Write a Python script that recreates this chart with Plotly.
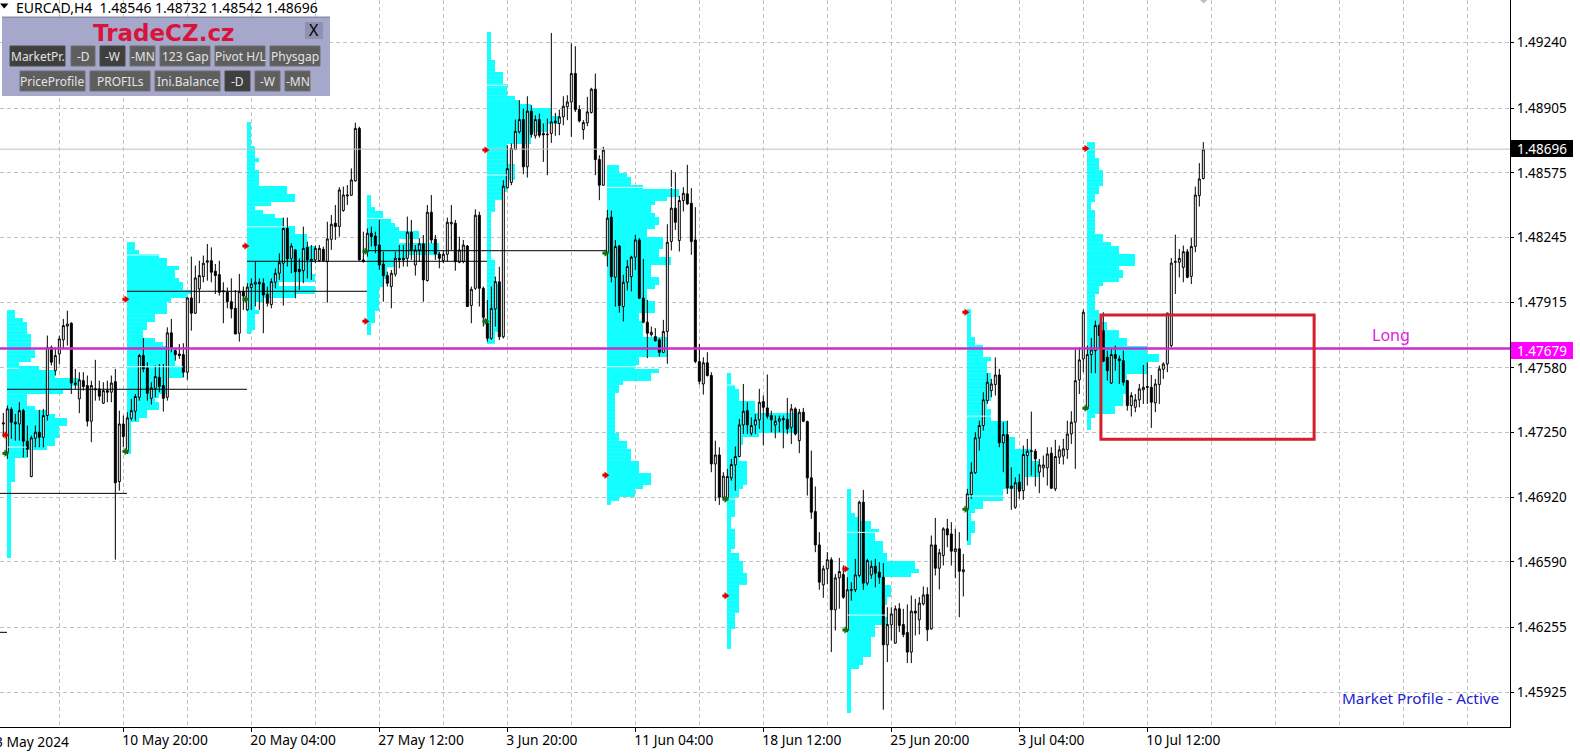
import plotly.graph_objects as go

open_ = [
1.47294,1.47150,1.47369,1.47303,1.47294,1.47362,1.47206,1.47026,1.47221,1.47252,
1.47226,1.47337,1.47685,1.47566,1.47651,1.47723,1.47793,1.47808,1.47503,1.47422,
1.47515,1.47490,1.47308,1.47468,1.47473,1.47400,1.47464,1.47456,1.47510,1.47000,
1.47294,1.47158,1.47323,1.47359,1.47430,1.47643,1.47580,1.47425,1.47476,1.47532,
1.47490,1.47430,1.47759,1.47668,1.47651,1.47648,1.47558,1.47937,1.47859,1.47983,
1.48046,1.48119,1.48127,1.48073,1.48056,1.47974,1.47969,1.47918,1.47884,1.47757,
1.47969,1.47876,1.47990,1.48007,1.48017,1.48012,1.47956,1.47903,1.48017,1.48063,
1.48114,1.48292,1.48139,1.48182,1.48083,1.48076,1.48195,1.48134,1.48131,1.48128,
1.48185,1.48122,1.48236,1.48318,1.48301,1.48383,1.48457,1.48461,1.48534,1.48802,
1.48131,1.48173,1.48267,1.48253,1.48207,1.48110,1.48051,1.47995,1.48058,1.48139,
1.48139,1.48139,1.48272,1.48105,1.48182,1.48213,1.48026,1.48374,1.48236,1.48161,
1.48128,1.48160,1.48315,1.48318,1.48119,1.48122,1.48202,1.47898,1.47986,1.48359,
1.47986,1.47808,1.47731,1.47881,1.48019,1.47739,1.48499,1.48526,1.48694,1.48784,
1.48847,1.48606,1.48890,1.48764,1.48847,1.48776,1.48769,1.48776,1.48839,1.48827,
1.48861,1.48912,1.48937,1.49082,1.48898,1.48796,1.48830,1.48883,1.49002,1.48643,
1.48512,1.48170,1.48349,1.48043,1.48202,1.47893,1.48017,1.48046,1.48145,1.48233,
1.47936,1.47813,1.47750,1.47740,1.47723,1.47659,1.47766,1.48225,1.48395,1.48230,
1.48434,1.48468,1.48420,1.48233,1.47612,1.47498,1.47606,1.47541,1.47090,1.47136,
1.46920,1.46917,1.47019,1.47085,1.47128,1.47289,1.47362,1.47247,1.47289,1.47315,
1.47408,1.47376,1.47337,1.47289,1.47308,1.47322,1.47317,1.47277,1.47371,1.47209,
1.47354,1.47306,1.47019,1.46847,1.46677,1.46473,1.46555,1.46601,1.46346,1.46509,
1.46526,1.46240,1.46444,1.46448,1.46521,1.46895,1.46482,1.46524,1.46568,1.46538,
1.46512,1.46167,1.46269,1.46176,1.46351,1.46271,1.46230,1.46130,1.46339,1.46295,
1.46376,1.46424,1.46249,1.46677,1.46558,1.46623,1.46759,1.46733,1.46643,1.46657,
1.46540,1.46861,1.46934,1.47045,1.47223,1.47286,1.47413,1.47464,1.47495,1.47544,
1.47198,1.47240,1.46977,1.46869,1.46997,1.46954,1.47133,1.47153,1.47155,1.47048,
1.47070,1.47070,1.47145,1.46963,1.47124,1.47130,1.47163,1.47243,1.47303,1.47519,
1.47626,1.47379,1.47648,1.47668,1.47796,1.47770,1.47634,1.47503,1.47648,1.47626,
1.47617,1.47515,1.47388,1.47379,1.47417,1.47468,1.47485,1.47481,1.47401,1.47495,
1.47573,1.47600,1.47694,1.48119,1.48119,1.48093,1.48173,1.48047,1.48200,1.48459,
1.48546]

close = [
1.47299,1.47371,1.47303,1.47294,1.47362,1.47206,1.47165,1.47223,1.47252,1.47226,
1.47337,1.47685,1.47609,1.47643,1.47728,1.47796,1.47804,1.47503,1.47497,1.47519,
1.47485,1.47308,1.47490,1.47473,1.47436,1.47464,1.47456,1.47503,1.46994,1.47294,
1.47230,1.47325,1.47362,1.47434,1.47643,1.47575,1.47451,1.47478,1.47536,1.47486,
1.47425,1.47759,1.47685,1.47648,1.47643,1.47558,1.47937,1.47859,1.48039,1.48051,
1.48114,1.48127,1.48068,1.48051,1.47966,1.47969,1.47918,1.47881,1.47753,1.47969,
1.47947,1.47992,1.48009,1.48017,1.48009,1.47952,1.47910,1.48020,1.48063,1.48117,
1.48292,1.48136,1.48202,1.48071,1.48071,1.48190,1.48131,1.48126,1.48190,1.48190,
1.48128,1.48238,1.48313,1.48301,1.48488,1.48462,1.48462,1.48539,1.48802,1.48131,
1.48122,1.48267,1.48250,1.48204,1.48105,1.48051,1.48012,1.48063,1.48139,1.48131,
1.48131,1.48272,1.48182,1.48182,1.48213,1.48029,1.48374,1.48233,1.48161,1.48139,
1.48160,1.48323,1.48323,1.48122,1.48182,1.48207,1.47893,1.47981,1.48359,1.47986,
1.47838,1.47731,1.47884,1.48020,1.47739,1.48507,1.48597,1.48699,1.48787,1.48847,
1.48606,1.48890,1.48771,1.48847,1.48767,1.48769,1.48772,1.48835,1.48832,1.48861,
1.48915,1.48937,1.49082,1.48898,1.48840,1.48832,1.48886,1.49002,1.48643,1.48512,
1.48691,1.48344,1.48046,1.48199,1.47898,1.48017,1.48097,1.48145,1.48233,1.47936,
1.47813,1.47757,1.47762,1.47718,1.47659,1.47766,1.48221,1.48395,1.48323,1.48434,
1.48471,1.48417,1.48225,1.47613,1.47512,1.47606,1.47541,1.47090,1.47136,1.46920,
1.47028,1.47026,1.47087,1.47128,1.47289,1.47359,1.47289,1.47286,1.47315,1.47405,
1.47379,1.47333,1.47315,1.47308,1.47320,1.47315,1.47269,1.47371,1.47243,1.47354,
1.47308,1.47019,1.46844,1.46677,1.46487,1.46555,1.46601,1.46346,1.46509,1.46541,
1.46410,1.46448,1.46450,1.46524,1.46895,1.46482,1.46597,1.46568,1.46533,1.46512,
1.46167,1.46271,1.46325,1.46351,1.46266,1.46220,1.46130,1.46339,1.46329,1.46380,
1.46422,1.46244,1.46677,1.46558,1.46637,1.46759,1.46728,1.46645,1.46657,1.46543,
1.46550,1.46937,1.47048,1.47223,1.47286,1.47417,1.47507,1.47498,1.47544,1.47198,
1.47240,1.46968,1.46966,1.46994,1.46951,1.47138,1.47155,1.47157,1.47116,1.47085,
1.47085,1.47141,1.46966,1.47128,1.47162,1.47167,1.47243,1.47303,1.47515,1.47621,
1.47864,1.47648,1.47672,1.47796,1.47745,1.47614,1.47566,1.47648,1.47629,1.47617,
1.47507,1.47388,1.47439,1.47417,1.47473,1.47481,1.47481,1.47405,1.47498,1.47575,
1.47600,1.47860,1.48115,1.48122,1.48139,1.48173,1.48042,1.48200,1.48462,1.48544,
1.48696]

high = [
1.47350,1.47388,1.47379,1.47345,1.47405,1.47371,1.47286,1.47235,1.47286,1.47366,
1.47371,1.47745,1.47694,1.47685,1.47745,1.47830,1.47872,1.47813,1.47575,1.47558,
1.47558,1.47541,1.47515,1.47621,1.47515,1.47507,1.47515,1.47541,1.47575,1.47362,
1.47337,1.47354,1.47422,1.47447,1.47651,1.47733,1.47609,1.47507,1.47592,1.47600,
1.47600,1.47787,1.47830,1.47677,1.47702,1.47706,1.47940,1.48148,1.48102,1.48127,
1.48153,1.48212,1.48195,1.48110,1.48127,1.48017,1.47990,1.48037,1.47978,1.48060,
1.47995,1.48012,1.48037,1.48122,1.48037,1.48037,1.47995,1.48037,1.48088,1.48165,
1.48347,1.48347,1.48216,1.48185,1.48139,1.48301,1.48224,1.48207,1.48204,1.48207,
1.48199,1.48326,1.48360,1.48411,1.48502,1.48505,1.48513,1.48598,1.48831,1.48811,
1.48275,1.48292,1.48301,1.48275,1.48335,1.48173,1.48071,1.48080,1.48173,1.48207,
1.48207,1.48352,1.48335,1.48207,1.48241,1.48258,1.48411,1.48462,1.48258,1.48173,
1.48182,1.48347,1.48411,1.48335,1.48250,1.48233,1.48207,1.47995,1.48389,1.48377,
1.47995,1.47927,1.47995,1.48046,1.48096,1.48538,1.48716,1.48725,1.48847,1.48946,
1.48903,1.48966,1.48920,1.48869,1.48878,1.48827,1.48852,1.49289,1.48881,1.48898,
1.48966,1.48971,1.49235,1.49221,1.48920,1.48844,1.48963,1.49009,1.49082,1.48665,
1.48708,1.48386,1.48383,1.48233,1.48208,1.48055,1.48131,1.48152,1.48259,1.48242,
1.48136,1.47927,1.47791,1.47783,1.47732,1.47825,1.48313,1.48590,1.48577,1.48458,
1.48502,1.48616,1.48497,1.48400,1.47702,1.47634,1.47660,1.47558,1.47209,1.47175,
1.47048,1.47065,1.47116,1.47179,1.47320,1.47498,1.47405,1.47328,1.47345,1.47473,
1.47439,1.47546,1.47362,1.47337,1.47337,1.47337,1.47427,1.47396,1.47379,1.47371,
1.47376,1.47311,1.47158,1.46975,1.46742,1.46572,1.46640,1.46614,1.46529,1.46611,
1.46572,1.46512,1.46487,1.46606,1.46903,1.46958,1.46606,1.46597,1.46606,1.46589,
1.46584,1.46359,1.46359,1.46368,1.46380,1.46351,1.46373,1.46419,1.46402,1.46411,
1.46465,1.46461,1.46725,1.46815,1.46657,1.46767,1.46810,1.46793,1.46759,1.46742,
1.46631,1.46963,1.47099,1.47252,1.47311,1.47456,1.47553,1.47524,1.47634,1.47575,
1.47303,1.47311,1.47073,1.47022,1.47039,1.47184,1.47218,1.47357,1.47167,1.47116,
1.47133,1.47175,1.47175,1.47213,1.47184,1.47218,1.47311,1.47359,1.47677,1.47685,
1.47878,1.47694,1.47733,1.47821,1.47804,1.47864,1.47668,1.47685,1.47694,1.47643,
1.47668,1.47519,1.47456,1.47447,1.47498,1.47595,1.47609,1.47544,1.47524,1.47592,
1.47609,1.47860,1.48141,1.48260,1.48187,1.48204,1.48187,1.48243,1.48505,1.48625,
1.48732]

low = [
1.47226,1.47116,1.47218,1.47209,1.47209,1.47124,1.47124,1.47022,1.47175,1.47175,
1.47175,1.47311,1.47592,1.47541,1.47600,1.47677,1.47694,1.47447,1.47473,1.47349,
1.47464,1.47281,1.47201,1.47413,1.47413,1.47396,1.47405,1.47405,1.46602,1.46954,
1.47175,1.47141,1.47311,1.47311,1.47413,1.47558,1.47413,1.47393,1.47430,1.47456,
1.47357,1.47413,1.47660,1.47617,1.47626,1.47532,1.47519,1.47770,1.47855,1.47910,
1.48017,1.48025,1.48017,1.47957,1.47949,1.47808,1.47884,1.47833,1.47753,1.47714,
1.47876,1.47871,1.47876,1.47893,1.47876,1.47757,1.47893,1.47884,1.47986,1.48029,
1.47898,1.48097,1.48063,1.47935,1.47978,1.48012,1.48037,1.48029,1.48114,1.48122,
1.48122,1.47913,1.48182,1.48233,1.48250,1.48377,1.48411,1.48457,1.48530,1.48127,
1.48117,1.48148,1.48199,1.48165,1.48080,1.47918,1.47995,1.47884,1.48046,1.48088,
1.48097,1.48097,1.48131,1.48051,1.48122,1.47918,1.48020,1.48216,1.48131,1.48088,
1.48114,1.48122,1.48182,1.48076,1.48114,1.48114,1.47893,1.47808,1.47978,1.47893,
1.47791,1.47714,1.47723,1.47791,1.47722,1.47730,1.48495,1.48512,1.48691,1.48776,
1.48568,1.48551,1.48755,1.48750,1.48755,1.48631,1.48563,1.48728,1.48764,1.48767,
1.48818,1.48844,1.48759,1.48886,1.48832,1.48745,1.48813,1.48878,1.48563,1.48436,
1.48509,1.48097,1.48016,1.47893,1.47862,1.47817,1.47975,1.47970,1.48080,1.47931,
1.47808,1.47630,1.47740,1.47715,1.47638,1.47655,1.47601,1.48179,1.48284,1.48174,
1.48378,1.48412,1.48157,1.47604,1.47495,1.47444,1.47536,1.47048,1.46900,1.46881,
1.46912,1.46912,1.47005,1.46954,1.47124,1.47243,1.47243,1.47235,1.47243,1.47269,
1.47184,1.47320,1.47252,1.47221,1.47252,1.47170,1.47243,1.47192,1.47235,1.47145,
1.47303,1.46929,1.46810,1.46640,1.46448,1.46407,1.46478,1.46130,1.46240,1.46351,
1.46402,1.46232,1.46393,1.46436,1.46512,1.46448,1.46470,1.46504,1.46461,1.46478,
1.45836,1.46079,1.46189,1.46172,1.46232,1.46206,1.46074,1.46074,1.46215,1.46220,
1.46368,1.46186,1.46244,1.46521,1.46450,1.46572,1.46665,1.46572,1.46507,1.46308,
1.46414,1.46699,1.46912,1.47039,1.47158,1.47260,1.47396,1.47430,1.47439,1.47175,
1.47048,1.46937,1.46856,1.46861,1.46912,1.46907,1.46980,1.47031,1.46975,1.46941,
1.47022,1.46980,1.46963,1.46951,1.47090,1.47087,1.47116,1.47192,1.47065,1.47447,
1.47558,1.47366,1.47553,1.47553,1.47685,1.47609,1.47515,1.47498,1.47566,1.47498,
1.47490,1.47362,1.47332,1.47354,1.47379,1.47396,1.47396,1.47274,1.47354,1.47396,
1.47524,1.47558,1.47685,1.47957,1.48042,1.48017,1.48037,1.48008,1.48170,1.48403,
1.48542]

# Market-profile rows: TPO counts per price row, from the top of each week's range
profile_base = [0.92, 30.92, 60.92, 90.92, 120.92, 150.92, 180.92, 210.92, 240.92, 270.92]
profile_top = [1.47875, 1.48222, 1.48834, 1.48462, 1.49294, 1.48615, 1.47554, 1.46962, 1.47880, 1.48732]
profile_step = 0.000204
profile_1 = [2,2,4,5,5,5,6,6,6,6,7,7,6,3,8,12,12,18,18,16,14,5,5,5,7,10,12,15,15,13,13,13,12,12,10,5,5,
             2,2,2,2,2,2]+[1]*19
profile_2 = [2,2,3,8,10,10,13,12,12,13,14,14,16,15,11,10,10,10,7,7,5,5,4,4,7,9,10,12,12,12,12,14,14,14,10,10,10,10,
             8,7,8,8,5,5,3,1,1,1,1,1,1,1,1]
profile_3 = [1,1,1,1,1,1,2,2,2,3,2,2,3,3,3,3,10,10,12,12,6,2,4,7,9,9,12,12,15,15,15,17,17,17,17,16,16,16,17,17,8,17,17,
             12,4,2,2,3,2,2,2,2,1]
profile_4 = [1,1,1,2,4,4,6,7,8,13,13,8,18,18,18,10,7,7,5,5,5,4,4,3,3,3,3,3,3,2,2,2,1,1,1]
profile_5 = [1,1,1,1,1,1,1,2,2,2,4,4,4,5,5,5,7,8,11,16,16,18,18,15,15,11,11,11,5,5,5,5,5,7,7,7,7,5,5,5,4,4,2,2,2,
             1,1,1,1,1,1,1,1,1,1,1,1,2,2,2,2,2,2,3,3,3,3,3,3,3,3,3,3,3,3,2,2,2]
profile_6 = [3,3,5,6,6,9,18,18,15,12,11,11,12,13,13,12,10,10,14,14,14,13,13,16,16,11,11,11,13,13,12,10,10,10,
             12,12,12,8,8,9,9,9,9,15,15,15,15,15,8,8,7,13,11,11,4,3,3,2,2,2,2,2,2,2,2,2,2,3,3,5,5,6,6,6,8,8,8,11,11,11,9,7,7,3,1]
profile_7 = [1,1,1,2,3,3,3,7,7,7,18,18,18,18,18,8,4,4,3,3,3,3,5,5,5,5,5,5,4,3,3,2,2,2,2,2,1,1,1,2,2,2,2,2,1,3,3,4,4,4,
             5,5,5,3,3,3,3,3,3,3,2,2,2,2,1,1,1,1,1]
profile_8 = [1,1,1,1,1,1,2,3,6,6,8,7,7,9,9,9,10,10,17,17,18,16,9,9,11,11,11,10,10,9,9,9,10,10,7,7,7,6,6,6,6,6,4,4,3,
             1,1,1,1,1,1,1,1,1,1,1]
profile_9 = [1,1,1,1,1,1,1,2,2,4,4,4,6,5,5,5,6,6,6,6,6,6,6,5,5,6,6,6,10,10,10,10,12,12,12,16,16,16,18,18,18,18,14,14,14,
             9,9,9,4,4,2,1,1,2,2,2,1,1,1]
profile_10 = [2,2,2,2,3,3,3,4,4,4,4,3,3,2,2,1,1,2,2,2,2,2,2,4,4,6,8,8,12,12,12,8,9,9,8,4,3,3,2,2,2,2,3,3,3,5,5,8,8,10,10,
              15,15,18,18,15,15,15,10,10,10,10,10,9,9,9,7,7,2,1,1,1]
profiles = [profile_1, profile_2, profile_3, profile_4, profile_5, profile_6, profile_7, profile_8, profile_9, profile_10]

# light value-area lines inside the profiles
va_price = [1.47578,1.47176,1.48156,1.47586,1.48300,1.48343,1.49022,1.48564,1.48501,1.47586,1.47493,1.46911,1.46741,1.46319,1.47334,1.46926]
va_start = [0.92,0.92,30.92,30.92,60.92,90.92,120.92,120.92,150.92,150.92,180.92,180.92,210.92,210.92,240.92,240.92]
va_len = [3,5,8,14,10,8,5,5,17,12,2,2,8,10,6,9]

# black level lines
lvl_start = [0.92,30.92,60.92,90.92,-1,-1]
lvl_end = [60.92,90.92,120.92,150.92,30.92,0.92]
lvl_price = [1.47471,1.47971,1.48124,1.48178,1.46940,1.46231]

red_x = [0.4,30.4,60.4,90.4,120.4,150.4,180.4,210.4,240.4,270.4]
red_y = [1.47238,1.47930,1.48202,1.47818,1.48692,1.47033,1.46417,1.46554,1.47864,1.48700]
green_x = red_x
green_y = [1.47144,1.47154,1.47930,1.48175,1.47818,1.48166,1.46910,1.46243,1.46859,1.47374]

y_ticks = [1.49240,1.48905,1.48575,1.48245,1.47915,1.47580,1.47250,1.46920,1.46590,1.46255,1.45925]
x_label_bars = [30,62,94,126,158,190,222,254,286]
x_labels = ["10 May 20:00","20 May 04:00","27 May 12:00","3 Jun 20:00","11 Jun 04:00","18 Jun 12:00","25 Jun 20:00","3 Jul 04:00","10 Jul 12:00"]
x_grid_bars = [14,46,78,110,142,174,206,238,270,302,318,334,350,366]

last_price = 1.48696
long_price = 1.47679
box_x = [274.4, 327.7]
box_y = [1.47216, 1.47850]

W, H = 1580, 756
PL, PT, PR, PB = 0, 0, 70, 29
PW, PH = W-PL-PR, H-PT-PB
X_RANGE = [-0.8325, 376.67]
Y_RANGE = [1.45748, 1.49457]
def fx(px): return px/PW
def fy(py): return 1-py/PH
FONT = "Noto Sans"

bars = list(range(len(open_)))
fig = go.Figure()

py, pw, pb = [], [], []
for base, top, counts in zip(profile_base, profile_top, profiles):
    for r, c in enumerate(counts):
        py.append(top-profile_step*(r+0.5)); pw.append(c); pb.append(base)
fig.add_trace(go.Bar(y=py, x=pw, base=pb, orientation="h", width=profile_step,
                     marker=dict(color="#00ffff", line=dict(width=0)), opacity=0.92, hoverinfo="skip"))

vx, vy = [], []
for p, s, l in zip(va_price, va_start, va_len):
    vx += [s, s+l, None]; vy += [p, p, None]

fig.add_trace(go.Candlestick(x=bars, open=open_, high=high, low=low, close=close, whiskerwidth=0,
    increasing=dict(fillcolor="#ffffff", line=dict(color="#000000", width=1)),
    decreasing=dict(fillcolor="#000000", line=dict(color="#000000", width=1)),
    hoverinfo="skip"))

fig.add_trace(go.Scatter(x=vx, y=vy, mode="lines", line=dict(color="#d8ffff", width=1), hoverinfo="skip"))
fig.add_trace(go.Scatter(x=X_RANGE, y=[last_price]*2, mode="lines", line=dict(color="#c0c0c0", width=1), hoverinfo="skip"))

lx, ly = [], []
for s, e, p in zip(lvl_start, lvl_end, lvl_price):
    lx += [s, e, None]; ly += [p, p, None]
fig.add_trace(go.Scatter(x=lx, y=ly, mode="lines", line=dict(color="#000000", width=1), hoverinfo="skip"))

# block arrows: a small stem plus a head
for xs, ys, col in ((red_x, red_y, "#e00000"), (green_x, green_y, "#107010")):
    fig.add_trace(go.Scatter(x=[v-0.25 for v in xs], y=ys, mode="markers",
                             marker=dict(symbol="square", size=3, color=col, line=dict(width=0)), hoverinfo="skip"))
    fig.add_trace(go.Scatter(x=[v+0.3 for v in xs], y=ys, mode="markers",
                             marker=dict(symbol="triangle-right", size=6.5, color=col, line=dict(width=0)), hoverinfo="skip"))

fig.add_trace(go.Scatter(x=X_RANGE, y=[long_price]*2, mode="lines", line=dict(color="#c92ec9", width=2.4), hoverinfo="skip"))

shapes = []
ann = []
shapes.append(dict(type="rect", xref="x", yref="y", x0=box_x[0], x1=box_x[1], y0=box_y[0], y1=box_y[1],
                   line=dict(color="#d3202c", width=3)))

def rect(x0, y0, x1, y1, fill, line=None, lw=0):
    shapes.append(dict(type="rect", xref="paper", yref="paper", x0=fx(x0), x1=fx(x1), y0=fy(y1), y1=fy(y0),
                       fillcolor=fill, line=dict(color=line or fill, width=lw), layer="above"))

def text(px, py, s, size=12, color="#000000", anchor="center", family=FONT, bold=False):
    ann.append(dict(xref="paper", yref="paper", x=fx(px), y=fy(py), text=f"<b>{s}</b>" if bold else s, showarrow=False,
                    xanchor=anchor, yanchor="middle", font=dict(family=family, size=size, color=color), borderpad=0, borderwidth=0))

# header text and top marks
rect(1511, 140, 1573, 157, "#000000")
rect(1511, 342, 1573, 359, "#ff00ff")
text(1517, 148.5, "1.48696", 13.5, "#ffffff", "left")
text(1517, 350.5, "1.47679", 13.5, "#ffffff", "left")
text(16, 7, "EURCAD,H4&nbsp;&nbsp;1.48546 1.48732 1.48542 1.48696", 14, "#000000", "left")
shapes.append(dict(type="path", xref="paper", yref="paper", layer="above",
    path=f"M {fx(0)} {fy(3.5)} L {fx(8.5)} {fy(3.5)} L {fx(4.2)} {fy(8.5)} Z", fillcolor="#000000", line=dict(width=0)))
shapes.append(dict(type="path", xref="paper", yref="paper", layer="above",
    path=f"M {fx(1200)} {fy(0)} L {fx(1207.5)} {fy(0)} L {fx(1203.7)} {fy(3.5)} Z", fillcolor="#c0c0c0", line=dict(width=0)))

# indicator panel
rect(2, 17, 330, 96, "#a6a8cb")
rect(2, 16.5, 330, 18, "#8c8ea8")
text(163.5, 33, "TradeCZ.cz", 23, "#d8143c", family="DejaVu Sans", bold=True)
rect(305, 22, 323, 39, "#8f91b3")
text(314, 30.5, "X", 16, "#000000")
row1 = [(10,65,"MarketPr.",1),(71,95,"-D",0),(100,125,"-W",1),(130,155,"-MN",0),(160,210,"123 Gap",0),(215,265,"Pivot H/L",0),(270,320,"Physgap",0)]
row2 = [(20,85,"PriceProfile",0),(90,150,"PROFILs",0),(155,220,"Ini.Balance",0),(225,250,"-D",1),(255,280,"-W",0),(285,310,"-MN",0)]
for (row, y0, y1) in ((row1, 46, 66), (row2, 71, 91)):
    for x0, x1, s, dark in row:
        rect(x0, y0, x1, y1, "#3f3f3f" if dark else "#5e5e5e", "#4a4a4a" if dark else "#6e6e6e", 1)
        text((x0+x1)/2, (y0+y1)/2+0.5, s, 12, "#e4e4e4")

text(1391, 335, "Long", 16, "#e020e0")
text(1499, 698, "Market Profile - Active", 15.3, "#2222cc", "right")
text(-4.67, 741, "3 May 2024", 13.8, "#000000", "left")

grid = dict(showgrid=True, gridcolor="#c0c0c0", gridwidth=1, griddash="4px,3px")
fig.update_layout(
    width=W, height=H, margin=dict(l=PL, r=PR, t=PT, b=PB), showlegend=False,
    paper_bgcolor="#ffffff", plot_bgcolor="#ffffff", barmode="overlay", boxmode="overlay", boxgap=0.3,
    font=dict(family=FONT, size=13, color="#000000"),
    shapes=shapes, annotations=ann,
    xaxis=dict(range=X_RANGE, rangeslider=dict(visible=False), tickmode="array", tickvals=x_label_bars, ticktext=x_labels,
               ticks="outside", ticklen=4, tickcolor="#000000", ticklabelposition="outside right", ticklabelshift=-2,
               tickfont=dict(size=13.8), showline=True, linecolor="#000000", linewidth=1,
               zeroline=False, minor=dict(tickmode="array", tickvals=x_grid_bars, ticks="", **grid), **grid),
    yaxis=dict(range=Y_RANGE, side="right", tickmode="array", tickvals=y_ticks, ticktext=[f"{v:.5f}" for v in y_ticks],
               ticks="outside", ticklen=3, tickcolor="#000000", tickfont=dict(size=13.5), showline=True, linecolor="#000000", linewidth=1,
               zeroline=False, ticklabelstandoff=0, **grid),
)
fig.write_html("out.html", config=dict(displayModeBar=False),
               post_script="document.body.style.margin='0';document.documentElement.style.overflow='hidden';")
